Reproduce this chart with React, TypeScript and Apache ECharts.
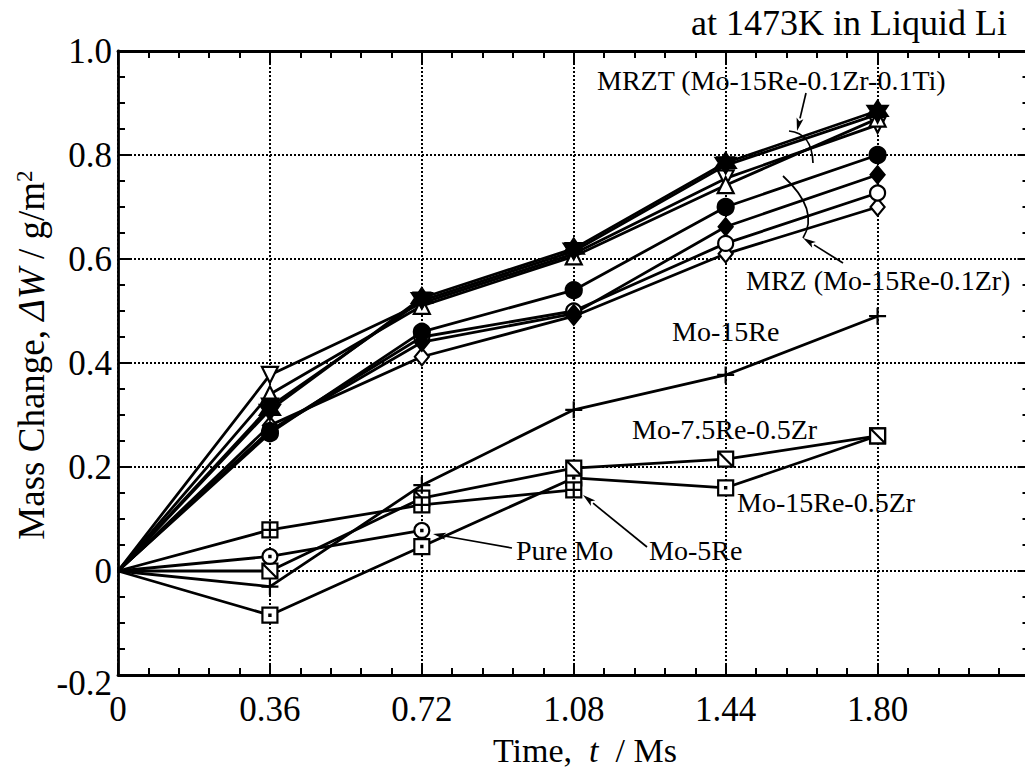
import React, { useEffect, useRef } from 'react';
import * as echarts from 'echarts';

// ---------- data ----------
const TIMES = [0, 0.36, 0.72, 1.08, 1.44, 1.8];
const X_TICK_LABELS = ['0', '0.36', '0.72', '1.08', '1.44', '1.80'];
const Y_TICK_LABELS = ['-0.2', '0', '0.2', '0.4', '0.6', '0.8', '1.0'];

// MRZT (Mo-15Re-0.1Zr-0.1Ti)
const MRZT_STAR = [0, 0.31, 0.525, 0.62, 0.785, 0.885];
const MRZT_TRI_DOWN_FILLED = [0, 0.316, 0.52, 0.615, 0.78, 0.878];
const MRZT_TRI_UP_OPEN = [0, 0.34, 0.51, 0.605, 0.742, 0.87];
const MRZT_TRI_DOWN_OPEN = [0, 0.377, 0.515, 0.61, 0.755, 0.858];
// MRZ (Mo-15Re-0.1Zr)
const MRZ_CIRCLE_FILLED = [0, 0.265, 0.46, 0.54, 0.7, 0.8];
const MRZ_DIAMOND_FILLED = [0, 0.27, 0.44, 0.495, 0.662, 0.762];
const MRZ_CIRCLE_OPEN = [0, 0.27, 0.45, 0.5, 0.63, 0.727];
const MRZ_DIAMOND_OPEN = [0, 0.28, 0.412, 0.49, 0.61, 0.7];
// others
const MO_15RE = [0, -0.03, 0.165, 0.31, 0.377, 0.49];
const PURE_MO = [0, 0.028, 0.078];
const MO_5RE = [0, 0.079, 0.127, 0.156];
const MO_75RE_05ZR = [0, 0, 0.14, 0.198, 0.215, 0.26];
const MO_15RE_05ZR = [0, -0.085, 0.047, 0.179, 0.16, 0.26];

// ---------- styles ----------
const FONT = 'Liberation Serif';
const SYM_STAR6 = 'path://M5 0 L9.33 7.5 L0.67 7.5 Z M5 10 L0.67 2.5 L9.33 2.5 Z';
const SYM_TRI_DOWN = 'path://M0 0 L10 0 L5 8.66 Z';
const SYM_TRI_UP = 'path://M5 0 L10 8.66 L0 8.66 Z';
const SYM_PLUS = 'path://M5 0 L5 10 M0 5 L10 5';
const SYM_SQ_CROSS = 'path://M0 0 L10 0 L10 10 L0 10 Z M5 0 L5 10 M0 5 L10 5';
const SYM_SQ_DIAG = 'path://M0 0 L10 0 L10 10 L0 10 Z M0 0 L10 10';
const SYM_SQ_DOT = 'path://M0 0 L10 0 L10 10 L0 10 Z M4.6 4.6 L5.4 4.6 L5.4 5.4 L4.6 5.4 Z';
const SYM_CIRC_DOT =
  'path://M0 5 A5 5 0 1 1 10 5 A5 5 0 1 1 0 5 Z M4.6 4.6 L5.4 4.6 L5.4 5.4 L4.6 5.4 Z';

type SeriesDef = { name: string; values: number[]; symbol: string; size: number | number[]; fill: string };

const SERIES_DEFS: SeriesDef[] = [
  { name: 'Mo-15Re-0.5Zr', values: MO_15RE_05ZR, symbol: SYM_SQ_DOT, size: 15, fill: '#fff' },
  { name: 'Mo-7.5Re-0.5Zr', values: MO_75RE_05ZR, symbol: SYM_SQ_DIAG, size: 15, fill: '#fff' },
  { name: 'Mo-5Re', values: MO_5RE, symbol: SYM_SQ_CROSS, size: 15, fill: '#fff' },
  { name: 'Pure Mo', values: PURE_MO, symbol: SYM_CIRC_DOT, size: 15, fill: '#fff' },
  { name: 'Mo-15Re', values: MO_15RE, symbol: SYM_PLUS, size: 17, fill: '#000' },
  { name: 'MRZ diamond open', values: MRZ_DIAMOND_OPEN, symbol: 'diamond', size: [14, 17], fill: '#fff' },
  { name: 'MRZ circle open', values: MRZ_CIRCLE_OPEN, symbol: 'circle', size: 15, fill: '#fff' },
  { name: 'MRZ diamond filled', values: MRZ_DIAMOND_FILLED, symbol: 'diamond', size: [14, 17], fill: '#000' },
  { name: 'MRZ circle filled', values: MRZ_CIRCLE_FILLED, symbol: 'circle', size: 16, fill: '#000' },
  { name: 'MRZT tri down open', values: MRZT_TRI_DOWN_OPEN, symbol: SYM_TRI_DOWN, size: 16, fill: '#fff' },
  { name: 'MRZT tri up open', values: MRZT_TRI_UP_OPEN, symbol: SYM_TRI_UP, size: 16, fill: '#fff' },
  { name: 'MRZT tri down filled', values: MRZT_TRI_DOWN_FILLED, symbol: SYM_TRI_DOWN, size: 16, fill: '#000' },
  { name: 'MRZT star', values: MRZT_STAR, symbol: SYM_STAR6, size: 20, fill: '#000' },
];

function arrow(x1: number, y1: number, x2: number, y2: number) {
  const dx = x2 - x1;
  const dy = y2 - y1;
  const len = Math.sqrt(dx * dx + dy * dy);
  const ux = dx / len;
  const uy = dy / len;
  const hl = 13;
  const hw = 3.5;
  const bx = x2 - ux * hl;
  const by = y2 - uy * hl;
  return [
    { type: 'line', shape: { x1, y1, x2: bx, y2: by }, style: { stroke: '#000', lineWidth: 1.7 }, z: 100 },
    {
      type: 'polygon',
      shape: {
        points: [
          [x2, y2],
          [bx - uy * hw, by + ux * hw],
          [bx + ux * 3, by + uy * 3],
          [bx + uy * hw, by - ux * hw],
        ],
      },
      style: { fill: '#000' },
      z: 100,
    },
  ];
}

function label(text: string, x: number, y: number, size = 28, align = 'left') {
  return {
    type: 'text',
    x,
    y,
    z: 100,
    style: { text, fontSize: size, fontFamily: FONT, fill: '#000', align, verticalAlign: 'middle' },
  };
}

const findLabel = (labels: string[], v: number) => {
  const hit = labels.find((s) => Math.abs(parseFloat(s) - v) < 1e-6);
  return hit === undefined ? '' : hit;
};

const axisCommon = {
  type: 'value',
  axisLine: { show: true, onZero: false, lineStyle: { color: '#000', width: 2.8 } },
  axisTick: { show: true, inside: true, length: 12, lineStyle: { color: '#000', width: 2 } },
};

export default function App() {
  const ref = useRef<HTMLDivElement>(null);
  useEffect(() => {
    const chart = echarts.init(ref.current!, null, { renderer: 'svg' });
    const series = SERIES_DEFS.map((d) => ({
      name: d.name,
      type: 'line',
      data: d.values.map((v, i) => (i === 0 ? { value: [TIMES[i], v], symbol: 'none' } : [TIMES[i], v])),
      symbol: d.symbol,
      symbolSize: d.size,
      showAllSymbol: true,
      lineStyle: { color: '#000', width: 2.8 },
      itemStyle: { color: d.fill, borderColor: '#000', borderWidth: 2.2 },
      emphasis: { disabled: true },
      z: 3,
    }));

    const option: any = {
      animation: false,
      backgroundColor: '#fff',
      grid: { left: 118, top: 51, right: 10.5, bottom: 94 },
      xAxis: [
        {
          ...axisCommon,
          position: 'bottom',
          min: 0,
          max: 2.16,
          interval: 0.36,
          minorTick: { show: true, splitNumber: 5, length: 7, lineStyle: { color: '#000', width: 2 } },
          splitLine: { show: true, lineStyle: { type: [2, 2], width: 2, color: '#000' } },
          axisLabel: {
            show: true,
            margin: 17,
            fontSize: 35,
            fontFamily: FONT,
            color: '#000',
            formatter: (v: number) => findLabel(X_TICK_LABELS, v),
          },
        },
        {
          ...axisCommon,
          position: 'top',
          min: 0,
          max: 2.16,
          interval: 0.36,
          minorTick: { show: true, splitNumber: 5, length: 7, lineStyle: { color: '#000', width: 2 } },
          splitLine: { show: false },
          axisLabel: { show: false },
        },
      ],
      yAxis: [
        {
          ...axisCommon,
          position: 'left',
          min: -0.2,
          max: 1.0,
          interval: 0.2,
          minorTick: { show: true, splitNumber: 4, length: 7, lineStyle: { color: '#000', width: 2 } },
          splitLine: { show: true, lineStyle: { type: [2, 2], width: 2, color: '#000' } },
          axisLabel: {
            show: true,
            margin: 6,
            fontSize: 35,
            fontFamily: FONT,
            color: '#000',
            formatter: (v: number) => {
              const s = findLabel(Y_TICK_LABELS, v);
              return s === '-0.2' ? '{low|' + s + '}' : s;
            },
            rich: {
              low: { fontSize: 35, fontFamily: FONT, color: '#000', padding: [16, 0, 0, 0] },
            },
          },
        },
        {
          ...axisCommon,
          position: 'right',
          min: -0.2,
          max: 1.0,
          interval: 0.2,
          minorTick: { show: true, splitNumber: 4, length: 7, lineStyle: { color: '#000', width: 2 } },
          splitLine: { show: false },
          axisLabel: { show: false },
        },
      ],
      series,
      graphic: [
        label('at 1473K in Liquid Li', 1007, 23, 36, 'right'),
        label('MRZT (Mo-15Re-0.1Zr-0.1Ti)', 597, 80),
        label('MRZ (Mo-15Re-0.1Zr)', 746, 280),
        label('Mo-15Re', 672, 331),
        label('Mo-7.5Re-0.5Zr', 632, 429),
        label('Mo-15Re-0.5Zr', 737, 502),
        label('Pure Mo', 516, 550),
        label('Mo-5Re', 649, 550),
        ...arrow(806, 93, 797, 131),
        ...arrow(843, 263, 803, 238),
        ...arrow(512, 548, 433, 534),
        ...arrow(647, 547, 583, 495),
        {
          type: 'bezierCurve',
          shape: { x1: 789, y1: 131, x2: 813, y2: 163, cpx1: 812, cpy1: 133 },
          style: { stroke: '#000', lineWidth: 1.7, fill: 'none' },
          z: 100,
        },
        {
          type: 'bezierCurve',
          shape: { x1: 783, y1: 176, x2: 803, y2: 238, cpx1: 820, cpy1: 210 },
          style: { stroke: '#000', lineWidth: 1.7, fill: 'none' },
          z: 100,
        },
        {
          type: 'text',
          x: 585,
          y: 750,
          z: 100,
          style: {
            text: '{a|Time,  }{i|t}{a|  / Ms}',
            fontSize: 34,
            fontFamily: FONT,
            fill: '#000',
            align: 'center',
            verticalAlign: 'middle',
            rich: {
              a: { fontSize: 34, fontFamily: FONT, fill: '#000' },
              i: { fontSize: 34, fontFamily: FONT, fontStyle: 'italic', fill: '#000' },
            },
          },
        },
        {
          type: 'text',
          x: 31,
          y: 355,
          rotation: Math.PI / 2,
          z: 100,
          style: {
            text: '{a|Mass Change, }{i|ΔW}{a| / g/m}{s|2}',
            fontSize: 37,
            fontFamily: FONT,
            fill: '#000',
            align: 'center',
            verticalAlign: 'middle',
            rich: {
              a: { fontSize: 37, fontFamily: FONT, fill: '#000' },
              i: { fontSize: 37, fontFamily: FONT, fontStyle: 'italic', fill: '#000' },
              s: { fontSize: 23, fontFamily: FONT, fill: '#000', verticalAlign: 'top' },
            },
          },
        },
      ],
    };
    chart.setOption(option);
    return () => chart.dispose();
  }, []);

  return (
    <div
      style={{
        position: 'fixed',
        left: 0,
        top: 0,
        width: 1025,
        height: 769,
        overflow: 'hidden',
        background: '#fff',
      }}
    >
      <div ref={ref} style={{ width: 1040, height: 769 }} />
    </div>
  );
}
